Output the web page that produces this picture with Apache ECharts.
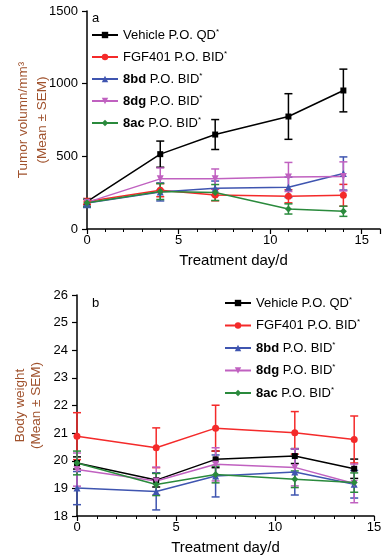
<!DOCTYPE html>
<html><head><meta charset="utf-8">
<script src="https://cdn.jsdelivr.net/npm/echarts@6/dist/echarts.min.js"></script>
<style>html,body{margin:0;padding:0;background:#fff}#c{width:390px;height:559px}</style>
</head><body><div id="c"></div>
<script>
// ---- data ----
const days = [0, 4, 7, 11, 14];
const seriesNames = ['Vehicle P.O. QD', 'FGF401 P.O. BID', '8bd P.O. BID', '8dg P.O. BID', '8ac P.O. BID'];
// tumor volume (mm^3)
const vehicleTV = [188, 515, 650, 774, 953];
const vehicleTVErr = [20, 90, 103, 157, 147];
const fgfTV = [190, 267, 234, 225, 232];
const fgfTVErr = [20, 45, 40, 45, 75];
const bdTV = [178, 255, 280, 287, 382];
const bdTVErr = [30, 62, 50, 70, 114];
const dgTV = [183, 345, 345, 358, 362];
const dgTVErr = [25, 75, 68, 100, 100];
const acTV = [180, 258, 251, 138, 122];
const acTVErr = [25, 55, 55, 35, 35];
// body weight
const vehicleBW = [19.92, 19.30, 20.05, 20.17, 19.71];
const vehicleBWErr = [0.22, 0.25, 0.30, 0.27, 0.35];
const fgfBW = [20.89, 20.47, 21.18, 21.01, 20.77];
const fgfBWErr = [0.85, 0.72, 0.83, 0.77, 0.85];
const bdBW = [19.01, 18.89, 19.45, 19.59, 19.15];
const bdBWErr = [0.60, 0.67, 0.76, 0.83, 0.50];
const dgBW = [19.68, 19.27, 19.87, 19.76, 19.18];
const dgBWErr = [0.60, 0.50, 0.60, 0.67, 0.70];
const acBW = [19.92, 19.14, 19.50, 19.33, 19.21];
const acBWErr = [0.43, 0.40, 0.30, 0.30, 0.35];
const xTicksA = [0, 5, 10, 15];
const yTicksA = [0, 500, 1000, 1500];
const yTicksB = [18, 19, 20, 21, 22, 23, 24, 25, 26];

// ---- styles ----
const colors = ['#000000', '#f42a2a', '#3f55b0', '#c061c0', '#2a8a3c'];
const symbols = ['rect', 'circle', 'triangle', 'triangle', 'diamond'];
const rotations = [0, 0, 0, 180, 0];
const FONT = 'Liberation Sans, Arial, sans-serif';
const titleColor = '#a0522d';

const tvMeans = [vehicleTV, fgfTV, bdTV, dgTV, acTV];
const tvErrs = [vehicleTVErr, fgfTVErr, bdTVErr, dgTVErr, acTVErr];
const bwMeans = [vehicleBW, fgfBW, bdBW, dgBW, acBW];
const bwErrs = [vehicleBWErr, fgfBWErr, bdBWErr, dgBWErr, acBWErr];

function errRenderer(color) {
  return function (params, api) {
    const x = api.value(0), lo = api.value(1), hi = api.value(2);
    const a = api.coord([x, lo]), b = api.coord([x, hi]);
    const w = 4;
    const st = { stroke: color, lineWidth: 1.5 };
    return { type: 'group', children: [
      { type: 'line', shape: { x1: a[0], y1: a[1], x2: b[0], y2: b[1] }, style: st },
      { type: 'line', shape: { x1: a[0] - w, y1: a[1], x2: a[0] + w, y2: a[1] }, style: st },
      { type: 'line', shape: { x1: b[0] - w, y1: b[1], x2: b[0] + w, y2: b[1] }, style: st }
    ]};
  };
}

const series = [];
[[tvMeans, tvErrs, 0], [bwMeans, bwErrs, 1]].forEach(([means, errs, g]) => {
  means.forEach((m, i) => {
    series.push({
      type: 'custom', name: 'err' + g + '_' + i, xAxisIndex: g, yAxisIndex: g,
      renderItem: errRenderer(colors[i]), encode: { x: 0, y: [1, 2] },
      data: days.map((d, k) => [d, m[k] - errs[i][k], m[k] + errs[i][k]]), z: 2, silent: true
    });
  });
  means.forEach((m, i) => {
    series.push({
      type: 'line', name: seriesNames[i], xAxisIndex: g, yAxisIndex: g,
      data: days.map((d, k) => [d, m[k]]),
      symbol: symbols[i], symbolRotate: rotations[i], symbolSize: i === 0 ? 6 : 7,
      lineStyle: { color: colors[i], width: 1.5 }, itemStyle: { color: colors[i] },
      z: 3, animation: false
    });
  });
});

function legendFmt(name) {
  const parts = name.split(' ');
  if (/^8/.test(parts[0])) return '{b|' + parts[0] + '}{n| ' + parts.slice(1).join(' ') + '}{s|*}';
  return '{n|' + name + '}{s|*}';
}
const legendText = {
  fontFamily: FONT, fontSize: 13, color: '#000', lineHeight: 15,
  rich: {
    n: { fontFamily: FONT, fontSize: 13, lineHeight: 15, color: '#000' },
    b: { fontWeight: 'bold', fontFamily: FONT, fontSize: 13, lineHeight: 15, color: '#000' },
    s: { fontSize: 8, fontFamily: FONT, lineHeight: 8, verticalAlign: 'top', color: '#000' }
  }
};

const axisCommonX = {
  type: 'value', interval: 5,
  axisLine: { lineStyle: { color: '#000', width: 1.5 } },
  axisTick: { show: true, length: 5, lineStyle: { color: '#000', width: 1.2 } },
  minorTick: { show: true, splitNumber: 5, length: 3, lineStyle: { color: '#000', width: 1 } },
  splitLine: { show: false },
  axisLabel: { fontFamily: FONT, fontSize: 13, color: '#000', margin: 5, formatter: v => String(v) },
  name: 'Treatment day/d', nameLocation: 'middle', nameGap: 24,
  nameTextStyle: { fontFamily: FONT, fontSize: 15, color: '#000' }
};
const axisCommonY = {
  type: 'value',
  axisLine: { show: true, lineStyle: { color: '#000', width: 1.5 } },
  axisTick: { show: true, length: 5, lineStyle: { color: '#000', width: 1.2 } },
  splitLine: { show: false },
  axisLabel: { fontFamily: FONT, fontSize: 13, color: '#000', margin: 9, formatter: v => String(v) },
  nameLocation: 'middle', nameRotate: 90, nameMoveOverlap: false
};

const chart = echarts.init(document.getElementById('c'), null, { renderer: 'canvas' });
chart.setOption({
  animation: false,
  textStyle: { fontFamily: FONT },
  title: [
    { text: 'a', left: 92, top: 12, padding: 0, textStyle: { fontFamily: FONT, fontSize: 13, fontWeight: 'normal', color: '#000' } },
    { text: 'b', left: 92, top: 297, padding: 0, textStyle: { fontFamily: FONT, fontSize: 13, fontWeight: 'normal', color: '#000' } }
  ],
  grid: [
    { left: 87, right: 10, top: 11, bottom: 330, containLabel: false },
    { left: 77, right: 16, top: 295, bottom: 43, containLabel: false }
  ],
  xAxis: [
    Object.assign({}, axisCommonX, { gridIndex: 0, min: 0, max: 16,
      axisLabel: Object.assign({}, axisCommonX.axisLabel, { showMaxLabel: false }) }),
    Object.assign({}, axisCommonX, { gridIndex: 1, min: 0, max: 15 })
  ],
  yAxis: [
    Object.assign({}, axisCommonY, { gridIndex: 0, min: yTicksA[0], max: yTicksA[yTicksA.length - 1], interval: 500,
      name: 'Tumor volumn/mm³\n(Mean ± SEM)', nameGap: 35.5,
      nameTextStyle: { fontFamily: FONT, fontSize: 13.5, color: titleColor, lineHeight: 19 } }),
    Object.assign({}, axisCommonY, { gridIndex: 1, min: yTicksB[0], max: yTicksB[yTicksB.length - 1], interval: 1,
      name: 'Body weight\n(Mean ± SEM)', nameGap: 33,
      nameTextStyle: { fontFamily: FONT, fontSize: 13.5, color: titleColor, lineHeight: 16 } })
  ],
  legend: [
    { data: seriesNames, orient: 'vertical', left: 91, top: 27.5, padding: 0, itemWidth: 26, itemHeight: 8, itemGap: 7,
      formatter: legendFmt, textStyle: legendText, selectedMode: false },
    { data: seriesNames, orient: 'vertical', left: 224, top: 295.5, padding: 0, itemWidth: 26, itemHeight: 8, itemGap: 7.5,
      formatter: legendFmt, textStyle: legendText, selectedMode: false }
  ],
  series: series
});
</script></body></html>
